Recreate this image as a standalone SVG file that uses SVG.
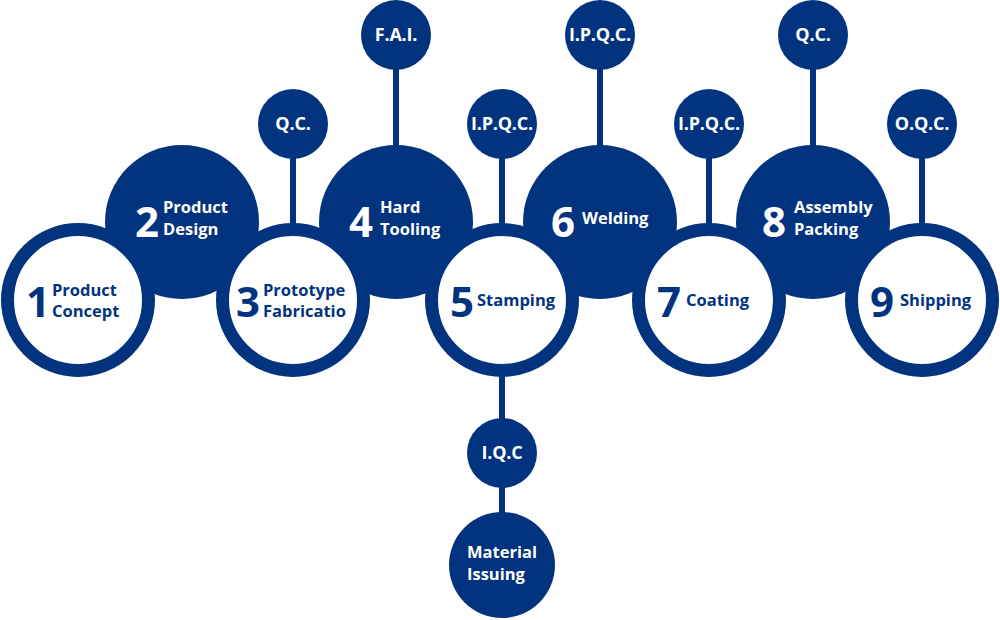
<svg xmlns="http://www.w3.org/2000/svg" width="1000" height="620" viewBox="0 0 1000 620">
<style>
.dark{fill:#02337f}
.ring{fill:#fff;stroke:#02337f;stroke-width:13}
.sat{fill:#02337f}
.ln{stroke:#02337f;stroke-width:6;fill:none}
text{font-family:"Open Sans","Liberation Sans",sans-serif;font-weight:bold}
.num{font-size:42px}
.lbl{font-size:16.5px}
.st{font-size:18px;text-anchor:middle;letter-spacing:-0.2px}
.w{fill:#fff}
.b{fill:#02337f}
</style>
<rect width="1000" height="620" fill="#fff"/>
<g id="connectors">
<line class="ln" x1="293" y1="155" x2="293" y2="226"/>
<line class="ln" x1="396" y1="66" x2="396" y2="148"/>
<line class="ln" x1="502" y1="155" x2="502" y2="226"/>
<line class="ln" x1="600" y1="66" x2="600" y2="148"/>
<line class="ln" x1="709" y1="155" x2="709" y2="226"/>
<line class="ln" x1="813" y1="66" x2="813" y2="148"/>
<line class="ln" x1="922" y1="155" x2="922" y2="226"/>
<line class="ln" x1="502" y1="374" x2="502" y2="421"/>
<line class="ln" x1="502" y1="485" x2="502" y2="515"/>
</g>
<g id="step2"><circle class="dark" cx="182" cy="222" r="77"/><text class="num w" x="135" y="237">2</text><text class="lbl w" x="163" y="213">Product</text><text class="lbl w" x="163" y="235">Design</text></g>
<g id="step4"><circle class="dark" cx="396" cy="222" r="77"/><text class="num w" x="349" y="237">4</text><text class="lbl w" x="380" y="213">Hard</text><text class="lbl w" x="380" y="235">Tooling</text></g>
<g id="step6"><circle class="dark" cx="600" cy="222" r="77"/><text class="num w" x="551" y="237">6</text><text class="lbl w" x="582" y="224">Welding</text></g>
<g id="step8"><circle class="dark" cx="813" cy="222" r="77"/><text class="num w" x="762" y="237">8</text><text class="lbl w" x="794" y="213">Assembly</text><text class="lbl w" x="794" y="235">Packing</text></g>
<g id="step1"><circle class="ring" cx="78" cy="300" r="70.5"/><text class="num b" x="26" y="317">1</text><text class="lbl b" x="52" y="296">Product</text><text class="lbl b" x="52" y="317">Concept</text></g>
<g id="step3"><circle class="ring" cx="293" cy="300" r="70.5"/><text class="num b" x="236" y="317">3</text><text class="lbl b" x="263" y="296">Prototype</text><text class="lbl b" x="263" y="317">Fabricatio</text></g>
<g id="step5"><circle class="ring" cx="502" cy="300" r="70.5"/><text class="num b" x="450" y="317">5</text><text class="lbl b" x="477" y="306">Stamping</text></g>
<g id="step7"><circle class="ring" cx="709" cy="300" r="70.5"/><text class="num b" x="657" y="317">7</text><text class="lbl b" x="686" y="306">Coating</text></g>
<g id="step9"><circle class="ring" cx="922" cy="300" r="70.5"/><text class="num b" x="870" y="317">9</text><text class="lbl b" x="900" y="306">Shipping</text></g>
<g id="qc3"><circle class="sat" cx="293" cy="124" r="35"/><text class="st w" x="293" y="130">Q.C.</text></g>
<g id="fai4"><circle class="sat" cx="396" cy="35" r="35"/><text class="st w" x="396" y="41">F.A.I.</text></g>
<g id="ipqc5"><circle class="sat" cx="502" cy="124" r="35"/><text class="st w" x="502" y="130">I.P.Q.C.</text></g>
<g id="ipqc6"><circle class="sat" cx="600" cy="35" r="35"/><text class="st w" x="600" y="41">I.P.Q.C.</text></g>
<g id="ipqc7"><circle class="sat" cx="709" cy="124" r="35"/><text class="st w" x="709" y="130">I.P.Q.C.</text></g>
<g id="qc8"><circle class="sat" cx="813" cy="35" r="35"/><text class="st w" x="813" y="41">Q.C.</text></g>
<g id="oqc9"><circle class="sat" cx="922" cy="124" r="35"/><text class="st w" x="922" y="130">O.Q.C.</text></g>
<g id="iqc"><circle class="sat" cx="502" cy="453" r="35"/><text class="st w" x="502" y="459">I.Q.C</text></g>
<g id="material"><circle class="sat" cx="502" cy="565" r="53"/><text class="lbl w" x="467" y="558">Material</text><text class="lbl w" x="467" y="580">Issuing</text></g>
</svg>
